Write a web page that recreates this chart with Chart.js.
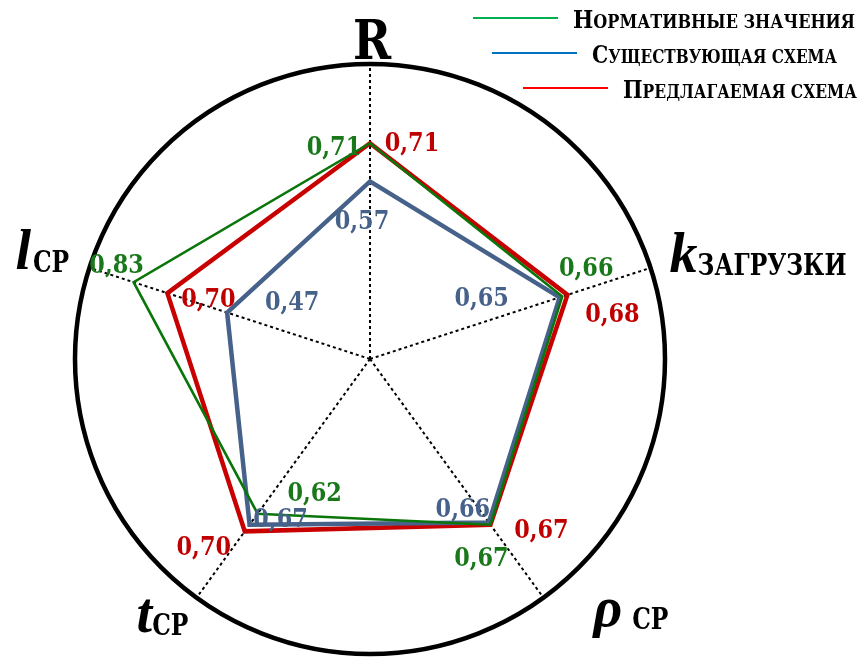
<!DOCTYPE html>
<html>
<head>
<meta charset="utf-8">
<script src="https://cdn.jsdelivr.net/npm/chart.js@4.4.0/dist/chart.umd.min.js"></script>
<style>
html,body{margin:0;padding:0;background:#fff;}
#wrap{width:865px;height:660px;position:relative;}
</style>
</head>
<body>
<div id="wrap"><canvas id="c" width="865" height="660"></canvas></div>
<script>
// ---- data ----
const axisMain = ['R', 'k', 'ρ', 't', 'l'];
const axisSub = ['', 'ЗАГРУЗКИ', 'СР', 'СР', 'СР'];
const seriesNames = ['Нормативные значения', 'Существующая схема', 'Предлагаемая схема'];
const normValues = [0.71, 0.66, 0.67, 0.62, 0.83];
const currentValues = [0.57, 0.65, 0.66, 0.67, 0.47];
const proposedValues = [0.71, 0.68, 0.67, 0.70, 0.70];

// ---- styles ----
const SERIF = '"DejaVu Serif", "Liberation Serif", serif';
const LSERIF = '"Liberation Serif", "DejaVu Serif", serif';
const lineColors = ['rgb(10,118,10)', 'rgb(70,98,138)', 'rgb(200,0,0)'];
const textColors = ['rgb(25,120,25)', 'rgb(70,98,138)', 'rgb(192,0,0)'];
const legendColors = ['rgb(0,176,80)', 'rgb(0,112,192)', 'rgb(255,0,0)'];
const lineWidths = [2.6, 4.5, 4.5];
// value label offsets (centre of text relative to plotted point)
const valueOffsets = [
  [[-36, 2], [24, -30], [-9, 32], [57, -22], [-17, -19]],
  [[-8, 38], [-78, -1], [-26, -15], [31, -7], [65, -12]],
  [[42, -2], [45, 18], [51, 4], [-41, 14], [41, 4]]
];
// axis label placement relative to spoke end on the circle
const axisLabelStyle = [
  {dx: 2, dy: -5, align: 'center', italic: false},
  {dx: 19, dy: 4, align: 'left', italic: true, gap: 0},
  {dx: 50, dy: 28, align: 'left', italic: true, gap: 10},
  {dx: -60, dy: 34, align: 'left', italic: true, gap: 0},
  {dx: -74, dy: 1, align: 'left', italic: true, gap: 2}
];
const legendLeft = [573, 592, 623];
const legendRight = [855, 837, 857];
const legendLineY = [18, 53, 88];

function drawScaled(ctx, text, x, y, font, sx, align) {
  ctx.save();
  ctx.font = font;
  const w = ctx.measureText(text).width * sx;
  const left = align === 'center' ? x - w / 2 : (align === 'right' ? x - w : x);
  ctx.translate(left, y);
  ctx.scale(sx, 1);
  ctx.textAlign = 'left';
  ctx.textBaseline = 'alphabetic';
  ctx.fillText(text, 0, 0);
  ctx.restore();
  return w;
}

const decorPlugin = {
  id: 'decor',
  afterDatasetsDraw(chart) {
    const ctx = chart.ctx;
    chart.data.datasets.forEach((ds, di) => {
      const meta = chart.getDatasetMeta(di);
      meta.data.forEach((pt, i) => {
        const txt = ds.data[i].toFixed(2).replace('.', ',');
        const off = valueOffsets[di][i];
        ctx.fillStyle = textColors[di];
        drawScaled(ctx, txt, pt.x + off[0], pt.y + off[1] + 9.5, 'bold 26px ' + SERIF, 0.86, 'center');
      });
    });
  },
  afterDraw(chart) {
    const ctx = chart.ctx;
    const scale = chart.scales.r;
    axisMain.forEach((m, i) => {
      const p = scale.getPointPosition(i, scale.drawingArea);
      const st = axisLabelStyle[i];
      const x = p.x + st.dx, y = p.y + st.dy;
      ctx.fillStyle = '#000';
      if (st.align === 'center') {
        drawScaled(ctx, m, x, y, 'bold 54px ' + SERIF, 0.85, 'center');
      } else {
        const w = drawScaled(ctx, m, x, y, 'italic bold 56px ' + LSERIF, 1.0, 'left');
        if (axisSub[i]) {
          drawScaled(ctx, axisSub[i], x + w + st.gap, y + 3, 'bold 30px ' + SERIF, 0.78, 'left');
        }
      }
    });
    // legend
    chart.data.datasets.forEach((ds, di) => {
      const name = ds.label;
      const first = name.charAt(0).toUpperCase();
      const rest = name.slice(1).toUpperCase();
      ctx.save();
      ctx.font = 'bold 24px ' + SERIF;
      const n1 = ctx.measureText(first).width;
      ctx.font = 'bold 18px ' + SERIF;
      const n2 = ctx.measureText(rest).width;
      ctx.restore();
      const start = legendLeft[di];
      const sx = (legendRight[di] - start) / (n1 + n2);
      const base = legendLineY[di] + 9.5;
      ctx.fillStyle = '#000';
      const w1 = drawScaled(ctx, first, start, base, 'bold 24px ' + SERIF, sx, 'left');
      drawScaled(ctx, rest, start + w1, base, 'bold 18px ' + SERIF, sx, 'left');
      ctx.save();
      ctx.strokeStyle = legendColors[di];
      ctx.lineWidth = 2.2;
      ctx.beginPath();
      ctx.moveTo(start - 15 - 85, legendLineY[di]);
      ctx.lineTo(start - 15, legendLineY[di]);
      ctx.stroke();
      ctx.restore();
    });
  }
};

const seriesValues = [normValues, currentValues, proposedValues];
const datasets = seriesValues.map((vals, i) => ({
  label: seriesNames[i],
  data: vals,
  borderColor: lineColors[i],
  backgroundColor: 'rgba(0,0,0,0)',
  borderWidth: lineWidths[i],
  fill: false,
  pointRadius: 0,
  pointHoverRadius: 0,
  tension: 0,
  borderJoinStyle: 'miter'
}));

new Chart(document.getElementById('c'), {
  type: 'radar',
  data: { labels: axisMain, datasets: datasets },
  options: {
    responsive: false,
    animation: false,
    devicePixelRatio: 1,
    layout: { padding: { left: 75, right: 200, top: 64, bottom: 6 } },
    plugins: { legend: { display: false }, tooltip: { enabled: false } },
    scales: {
      r: {
        min: -0.08,
        max: 1.0,
        ticks: { display: false },
        pointLabels: { display: false },
        grid: {
          circular: true,
          lineWidth: 4.5,
          color: (c) => (c.index === c.scale.ticks.length - 1 ? '#000' : 'rgba(0,0,0,0)')
        },
        angleLines: { display: true, color: '#000', lineWidth: 2, borderDash: [3, 3] }
      }
    }
  },
  plugins: [decorPlugin]
});
</script>
</body>
</html>
